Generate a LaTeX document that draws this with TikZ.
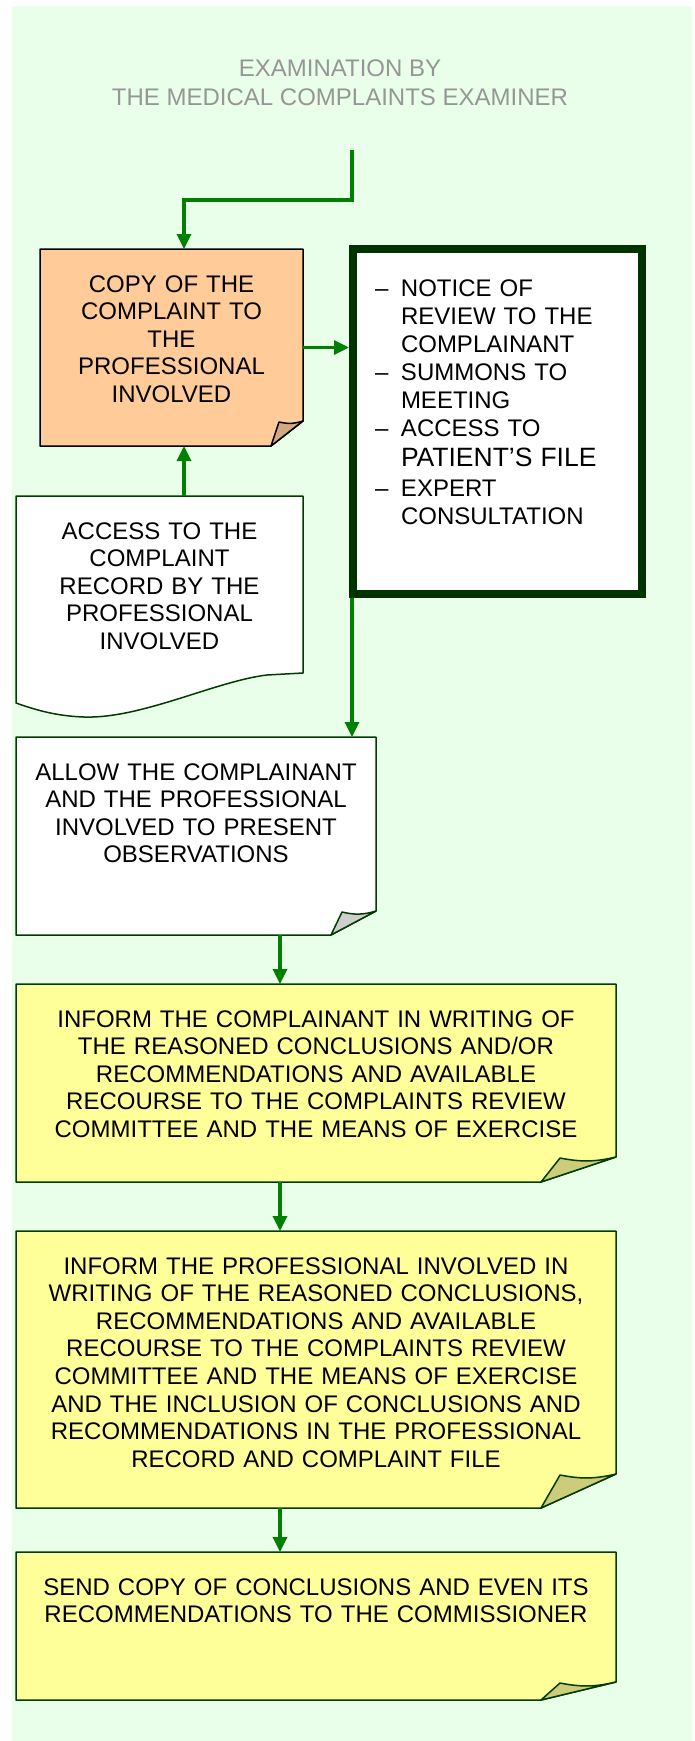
\documentclass[tikz,border=0pt]{standalone}
\usepackage{fontspec}
\setmainfont{Liberation Sans}
\usepackage{tikz}
\usetikzlibrary{arrows.meta,positioning,calc,backgrounds}
\definecolor{ecbg}{RGB}{233,255,233}
\definecolor{ectitle}{RGB}{150,150,150}
\definecolor{ecline}{RGB}{0,60,0}
\definecolor{ecdark}{RGB}{0,51,0}
\definecolor{ecgreen}{RGB}{0,128,0}
\definecolor{ecorange}{RGB}{255,204,153}
\definecolor{ecorfold}{RGB}{212,168,128}
\definecolor{ecgreyfold}{RGB}{206,206,206}
\definecolor{ecyellow}{RGB}{255,255,153}
\definecolor{ecyelfold}{RGB}{204,204,122}

\begin{document}
\begin{tikzpicture}[x=1pt, y=-1pt,
  heading/.style={font=\fontsize{24}{29}\selectfont, text=ectitle, align=center, anchor=base},
  note/.style={anchor=north west, inner sep=0pt, outer sep=0pt, align=center,
    font=\fontsize{24}{27.6}\selectfont, text height=43pt},
  boxline/.style={draw=ecline, line width=1.5pt, line join=round},
  flow/.style={draw=ecgreen, line width=3.3pt, -{Triangle[length=15pt,width=14pt]}}
]
  \useasboundingbox (0,0) rectangle (694,1741);

  % Title
  \node[heading] (head) at (340,105.5) {EXAMINATION BY\\THE MEDICAL COMPLAINTS EXAMINER};

  % Copy of the complaint
  \node[note, text width=263pt, text depth=154pt] (copy) at (40,249)
    {COPY OF THE\\COMPLAINT TO\\THE\\PROFESSIONAL\\INVOLVED};

  % Access to the record
  \node[note, text width=287pt, text depth=134pt] (acc) at (16,496)
    {ACCESS TO THE\\COMPLAINT\\RECORD BY THE\\PROFESSIONAL\\INVOLVED};

  % Review steps
  \node[anchor=north west, draw=ecdark, line width=8pt, fill=white,
        inner xsep=22pt, inner ysep=0pt, text width=245pt,
        text height=47.5pt, text depth=297.5pt, align=left,
        font=\fontsize{24}{28}\selectfont] (rev) at (349,245)
    {\makebox[26pt][l]{–}NOTICE OF\\
     \hspace*{26pt}REVIEW TO THE\\
     \hspace*{26pt}COMPLAINANT\\
     \makebox[26pt][l]{–}SUMMONS TO\\
     \hspace*{26pt}MEETING\\
     \makebox[26pt][l]{–}ACCESS TO\\[2pt]
     \hspace*{26pt}{\fontsize{26.5}{30}\selectfont PATIENT'S FILE}\\[2pt]
     \makebox[26pt][l]{–}EXPERT\\
     \hspace*{26pt}CONSULTATION};

  % Observations
  \node[note, text width=360pt, text depth=155pt] (obs) at (16,737)
    {ALLOW THE COMPLAINANT\\AND THE PROFESSIONAL\\INVOLVED TO PRESENT\\OBSERVATIONS};

  % Inform complainant
  \node[note, text width=600pt, text depth=155pt] (infc) at (16,984)
    {INFORM THE COMPLAINANT IN WRITING OF\\
     THE REASONED CONCLUSIONS AND/OR\\
     RECOMMENDATIONS AND AVAILABLE\\
     RECOURSE TO THE COMPLAINTS REVIEW\\
     COMMITTEE AND THE MEANS OF EXERCISE};

  % Inform professional
  \node[note, text width=600pt, text depth=234pt] (infp) at (16,1231)
    {INFORM THE PROFESSIONAL INVOLVED IN\\
     WRITING OF THE REASONED CONCLUSIONS,\\
     RECOMMENDATIONS AND AVAILABLE\\
     RECOURSE TO THE COMPLAINTS REVIEW\\
     COMMITTEE AND THE MEANS OF EXERCISE\\
     AND THE INCLUSION OF CONCLUSIONS AND\\
     RECOMMENDATIONS IN THE PROFESSIONAL\\
     RECORD AND COMPLAINT FILE};

  % Send to commissioner
  \node[note, text width=600pt, text depth=105pt] (send) at (16,1552)
    {SEND COPY OF CONCLUSIONS AND EVEN ITS\\
     RECOMMENDATIONS TO THE COMMISSIONER};

  % Relations
  \coordinate (start) at (352,150);
  \coordinate (bend) at (184,200);
  \coordinate (mid) at (280,0);
  \draw[flow] (start) |- (bend) -- (bend |- copy.north);
  \draw[flow] (bend |- acc.north) -- (bend |- copy.south);
  \draw[flow] (copy.east) -- (copy.east -| rev.west);
  \draw[flow] (start |- rev.south) -- (start |- obs.north);
  \draw[flow] (mid |- obs.south) -- (mid |- infc.north);
  \draw[flow] (mid |- infc.south) -- (mid |- infp.north);
  \draw[flow] (mid |- infp.south) -- (mid |- send.north);

  % Shapes behind the texts
  \begin{scope}[on background layer]
    \fill[ecbg] (12,6) rectangle (692,1741);

    \draw[boxline, draw=black, fill=ecorange] (copy.north west) -- (copy.north east)
      -- ($(copy.south east)+(0,-25)$) -- ($(copy.south east)+(-32,0)$) -- (copy.south west) -- cycle;
    \draw[boxline, draw=black, fill=ecorfold] ($(copy.south east)+(-32,0)$)
      -- ($(copy.south east)+(-24,-24)$) to[bend right=15] ($(copy.south east)+(0,-25)$) -- cycle;

    \draw[boxline, fill=white] (acc.north west) -- (acc.north east) -- (acc.south east)
      -- ($(acc.south west)+(251,2)$)
      .. controls ($(acc.south west)+(200,8)$) and ($(acc.south west)+(125,46)$) .. ($(acc.south west)+(68,44)$)
      .. controls ($(acc.south west)+(40,43)$) and ($(acc.south west)+(20,37)$) .. ($(acc.south west)+(0,30)$) -- cycle;

    \draw[boxline, fill=white] (obs.north west) -- (obs.north east)
      -- ($(obs.south east)+(0,-24)$) -- ($(obs.south east)+(-45,0)$) -- (obs.south west) -- cycle;
    \draw[boxline, fill=ecgreyfold] ($(obs.south east)+(-45,0)$)
      -- ($(obs.south east)+(-34,-23)$) to[bend right=15] ($(obs.south east)+(0,-24)$) -- cycle;

    \draw[boxline, fill=ecyellow] (infc.north west) -- (infc.north east)
      -- ($(infc.south east)+(0,-25)$) -- ($(infc.south east)+(-75,0)$) -- (infc.south west) -- cycle;
    \draw[boxline, fill=ecyelfold] ($(infc.south east)+(-75,0)$)
      -- ($(infc.south east)+(-56,-24)$) to[bend right=12] ($(infc.south east)+(0,-25)$) -- cycle;

    \draw[boxline, fill=ecyellow] (infp.north west) -- (infp.north east)
      -- ($(infp.south east)+(0,-34)$) -- ($(infp.south east)+(-75,0)$) -- (infp.south west) -- cycle;
    \draw[boxline, fill=ecyelfold] ($(infp.south east)+(-75,0)$)
      -- ($(infp.south east)+(-56,-33)$) to[bend right=12] ($(infp.south east)+(0,-34)$) -- cycle;

    \draw[boxline, fill=ecyellow] (send.north west) -- (send.north east)
      -- ($(send.south east)+(0,-18)$) -- ($(send.south east)+(-75,0)$) -- (send.south west) -- cycle;
    \draw[boxline, fill=ecyelfold] ($(send.south east)+(-75,0)$)
      -- ($(send.south east)+(-56,-17)$) to[bend right=12] ($(send.south east)+(0,-18)$) -- cycle;
  \end{scope}
\end{tikzpicture}
\end{document}
